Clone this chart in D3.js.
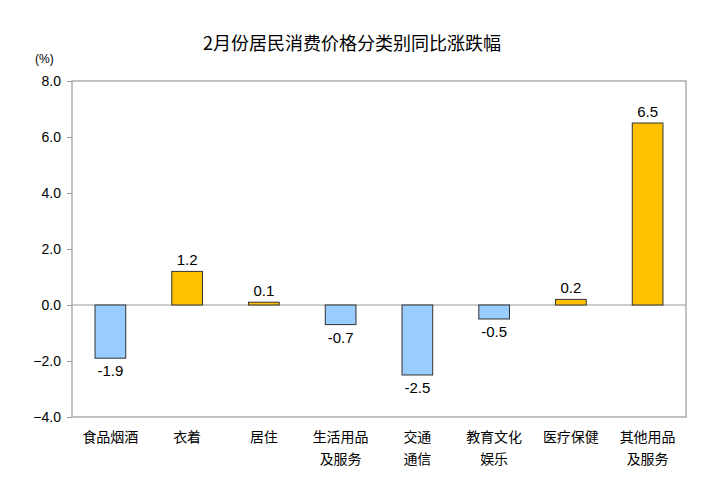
<!DOCTYPE html>
<html><head><meta charset="utf-8">
<script src="https://cdn.jsdelivr.net/npm/d3@7"></script>
<style>body{margin:0;background:#fff}text{font-family:"Noto Sans CJK SC",Arial,sans-serif}</style>
</head><body>
<svg id="chart" width="704" height="500"></svg>
<script>
const categories = ['食品烟酒', '衣着', '居住', '生活用品\n及服务', '交通\n通信', '教育文化\n娱乐', '医疗保健', '其他用品\n及服务']
const values = [-1.9, 1.2, 0.1, -0.7, -2.5, -0.5, 0.2, 6.5]
const yTicks = [-4, -2, 0, 2, 4, 6, 8]
const numFont = 'Arial, "Liberation Sans", sans-serif'

const margin = { top: 81, right: 18, bottom: 83, left: 72 }
const width = 704 - margin.left - margin.right
const height = 500 - margin.top - margin.bottom

const svg = d3.select('#chart')
const g = svg.append('g').attr('transform', `translate(${margin.left},${margin.top})`)

const x = d3.scaleBand().domain(categories).range([0, width]).paddingInner(0.6).paddingOuter(0.3)
const y = d3.scaleLinear().domain([-4, 8]).range([height, 0])

// frame
g.append('rect').attr('width', width).attr('height', height)
  .attr('fill', 'none').attr('stroke', '#999').attr('stroke-width', 1.2)

// y axis
const yAxis = g.append('g').call(d3.axisLeft(y).tickValues(yTicks).tickFormat(d3.format('.1f')).tickSize(5).tickPadding(6))
yAxis.select('.domain').remove()
yAxis.selectAll('line').attr('stroke', '#999')
yAxis.selectAll('text').attr('font-size', 14).attr('fill', '#000').style('font-family', numFont)

// zero line
g.append('line').attr('x1', 0).attr('x2', width).attr('y1', y(0)).attr('y2', y(0))
  .attr('stroke', '#999').attr('stroke-width', 1.2)

// bars
g.selectAll('rect.bar').data(values).enter().append('rect')
  .attr('class', 'bar')
  .attr('x', (d, i) => x(categories[i]))
  .attr('y', d => y(Math.max(0, d)))
  .attr('width', x.bandwidth())
  .attr('height', d => Math.abs(y(d) - y(0)))
  .attr('fill', d => d < 0 ? '#99CCFF' : '#FFC000')
  .attr('stroke', '#333').attr('stroke-width', 1)

// value labels
g.selectAll('text.val').data(values).enter().append('text')
  .attr('x', (d, i) => x(categories[i]) + x.bandwidth() / 2)
  .attr('y', d => d < 0 ? y(d) + 18 : y(d) - 6)
  .attr('text-anchor', 'middle').attr('font-size', 15)
  .style('font-family', numFont)
  .text(d => d.toFixed(1))

// category labels
categories.forEach(c => {
  const t = g.append('text').attr('x', x(c) + x.bandwidth() / 2).attr('y', height + 25)
    .attr('text-anchor', 'middle').attr('font-size', 14)
  c.split('\n').forEach((line, j) => {
    t.append('tspan').attr('x', x(c) + x.bandwidth() / 2).attr('dy', j ? 22 : 0).text(line)
  })
})

// title and unit
svg.append('text').attr('x', 352).attr('y', 50).attr('text-anchor', 'middle')
  .attr('font-size', 18).text('2月份居民消费价格分类别同比涨跌幅')
svg.append('text').attr('x', 35).attr('y', 63).attr('font-size', 12)
  .style('font-family', numFont).text('(%)')
</script>
</body></html>
